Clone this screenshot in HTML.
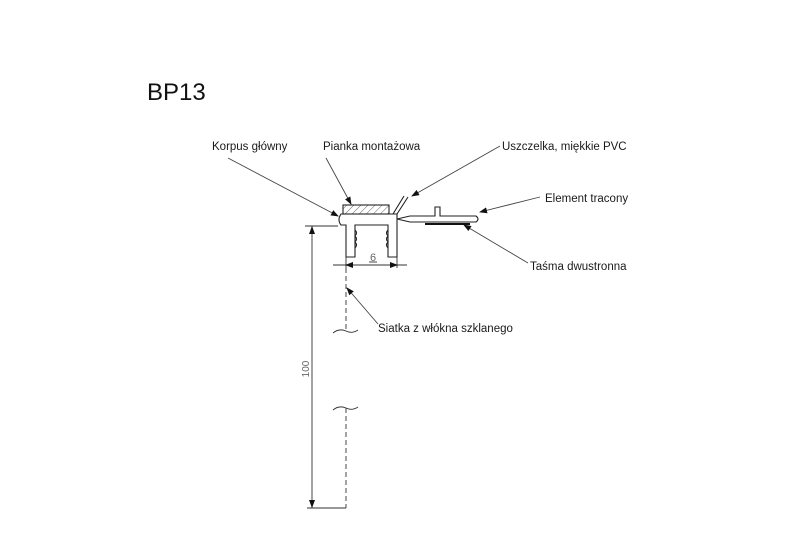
<!DOCTYPE html>
<html><head><meta charset="utf-8"><style>
html,body{margin:0;padding:0;background:#fff;}
svg{display:block}
text{font-family:"Liberation Sans",sans-serif;fill:#1a1a1a}
</style></head><body>
<svg width="800" height="539" viewBox="0 0 800 539" xmlns="http://www.w3.org/2000/svg">
<defs>
<marker id="a" markerWidth="8" markerHeight="6" refX="7" refY="3" orient="auto" markerUnits="userSpaceOnUse">
<path d="M0,0 L8,3 L0,6 Z" fill="#111"/></marker>
<pattern id="h" width="5" height="5" patternUnits="userSpaceOnUse" patternTransform="rotate(45)">
<line x1="0" y1="0" x2="0" y2="5" stroke="#555" stroke-width="0.9"/></pattern>
</defs>
<text x="147" y="100" font-size="24" style="fill:#111">BP13</text>
<g font-size="11.5">
<text x="212" y="150">Korpus główny</text>
<text x="323" y="150">Pianka montażowa</text>
<text x="502" y="150">Uszczelka, miękkie PVC</text>
<text x="545" y="202">Element tracony</text>
<text x="530" y="270">Taśma dwustronna</text>
<text x="378" y="332">Siatka z włókna szklanego</text>
</g>
<g stroke="#444" stroke-width="0.9" fill="none">
<line x1="228" y1="158" x2="338" y2="216" marker-end="url(#a)"/>
<line x1="326" y1="158" x2="351" y2="204" marker-end="url(#a)"/>
<line x1="500" y1="146" x2="412" y2="196" marker-end="url(#a)"/>
<line x1="540" y1="197" x2="480" y2="212" marker-end="url(#a)"/>
<line x1="528" y1="263" x2="464" y2="225" marker-end="url(#a)"/>
<line x1="378" y1="324" x2="347" y2="288" marker-end="url(#a)"/>
</g>
<rect x="343" y="205" width="46" height="9" fill="url(#h)" stroke="#222" stroke-width="1.1"/>
<g stroke="#222" stroke-width="1.1" fill="none">
<path d="M341,214 L397,214 L397,257 L388,257 L388,225 L355,225 L355,257 L346,257 L346,225 L341,225 Q337,220 341,214 Z"/>
<path d="M355,230 q3,3 0,6 q3,3 0,6 q3,3 0,6 M388,230 q-3,3 0,6 q-3,3 0,6 q-3,3 0,6"/>
<path d="M393,214 L404,196 M397,214 L408,197"/>
<path d="M397,219 L410,216 L435,216 L435,207 L440,207 L440,216 L476,216 Q480,219 476,222 L410,222 Z"/>
</g>
<line x1="425" y1="224" x2="470" y2="224" stroke="#111" stroke-width="2"/>
<g stroke="#333" stroke-width="0.9" fill="none">
<line x1="333" y1="265" x2="407" y2="265"/>
<line x1="346" y1="257" x2="346" y2="268"/>
<line x1="397" y1="257" x2="397" y2="268"/>
<line x1="352" y1="265" x2="346" y2="265" marker-end="url(#a)"/>
<line x1="391" y1="265" x2="397" y2="265" marker-end="url(#a)"/>
<line x1="346" y1="268" x2="346" y2="330" stroke-dasharray="5,3"/>
<line x1="346" y1="408" x2="346" y2="508" stroke-dasharray="5,3"/>
<path d="M333,333 q6,-5 13,-2 q6,3 12,-1"/>
<path d="M333,410 q6,-5 13,-2 q6,3 12,-1"/>
<line x1="305" y1="226" x2="338" y2="226"/>
<line x1="307" y1="508" x2="346" y2="508"/>
<line x1="312" y1="226" x2="312" y2="508"/>
<line x1="312" y1="234" x2="312" y2="227" marker-end="url(#a)"/>
<line x1="312" y1="500" x2="312" y2="507" marker-end="url(#a)"/>
<line x1="369" y1="262" x2="377" y2="262"/>
</g>
<text x="309" y="369" font-size="10" transform="rotate(-90 309 369)" text-anchor="middle" style="fill:#666">100</text>
<text x="373" y="261" font-size="11" text-anchor="middle" style="fill:#666">6</text>
</svg>
</body></html>
